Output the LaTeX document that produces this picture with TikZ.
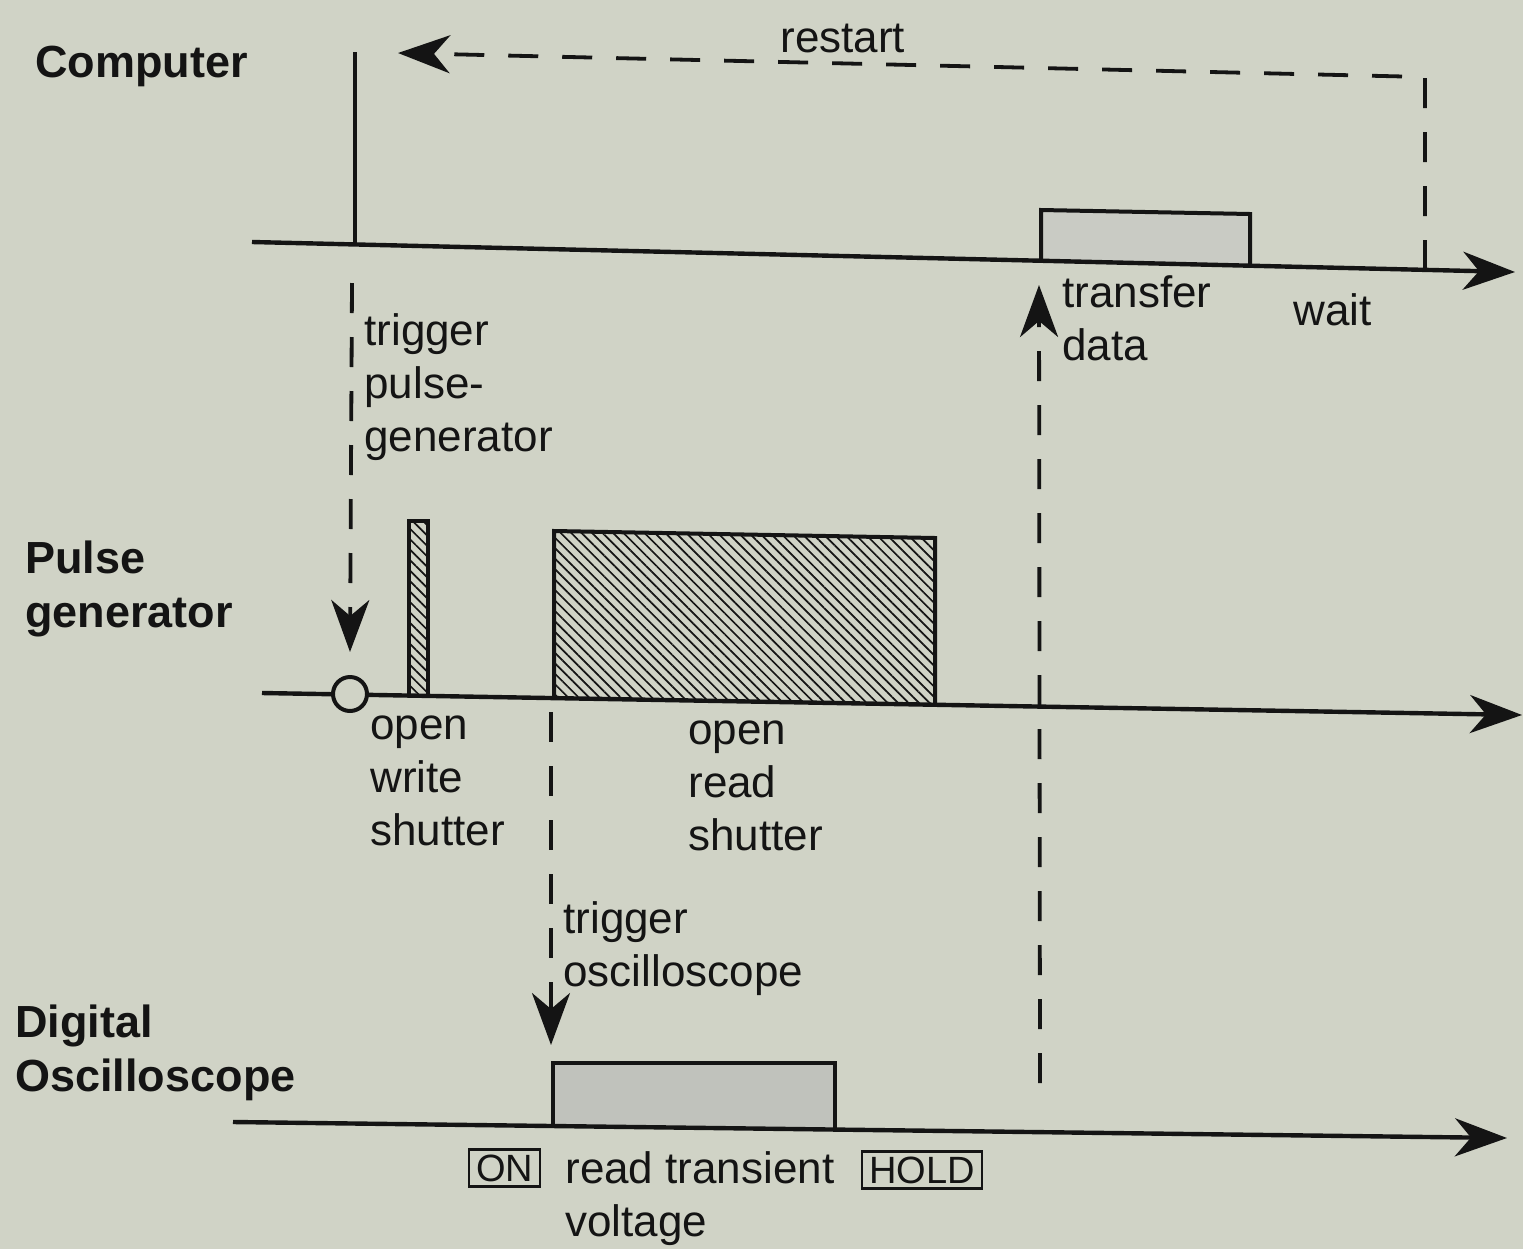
\documentclass[tikz,border=0pt]{standalone}
\usepackage{fontspec}
\setmainfont{Liberation Sans}
\usetikzlibrary{arrows.meta,patterns.meta}
\definecolor{bg}{RGB}{208,211,198}
\definecolor{ink}{RGB}{20,20,20}
\definecolor{boxA}{RGB}{201,203,196}
\definecolor{boxB}{RGB}{192,194,188}
\begin{document}
\begin{tikzpicture}[x=0.5pt,y=-0.5pt,
  bigtip/.style={-{Stealth[length=26pt,width=19pt,inset=8pt]}},
  axis/.style={draw=ink,line width=2.2pt,bigtip},
  sig/.style={draw=ink,line width=2pt},
  dsh/.style={draw=ink,line width=1.9pt,dash pattern=on 15pt off 12pt},
  txt/.style={anchor=base west,inner sep=0pt,text=ink,align=left,font=\fontsize{22}{26.5}\selectfont},
  ttl/.style={anchor=base west,inner sep=0pt,text=ink,align=left,font=\fontsize{22.5}{27}\selectfont\bfseries},
  tag/.style={draw=ink,line width=1.2pt,inner xsep=3.5pt,inner ysep=2.5pt,text=ink,font=\fontsize{19}{22}\selectfont},
  hatch/.style={draw=ink,line width=2pt,pattern={Lines[angle=-45,distance=3.7pt,line width=0.85pt]},pattern color=ink}
]
\fill[bg] (0,0) rectangle (1523,1249);
\useasboundingbox (0,0) rectangle (1523,1249);

% ---------- coordinates ----------
\coordinate (cA) at (252,242);
\coordinate (cB) at (1515,272);
\coordinate (cv0) at (355,244.5);
\coordinate (cvT) at (355,52);
\coordinate (w0) at (1425,270);
\coordinate (w1) at (1425,77);
\coordinate (rs) at (398,53);
\coordinate (t1s) at (352,283);
\coordinate (t1e) at (350,652);
\coordinate (pA) at (262,693);
\coordinate (pB) at (1522,715);
\coordinate (t2s) at (551,712);
\coordinate (t2e) at (551,1045);
\coordinate (oA) at (233,1122);
\coordinate (oB) at (1507,1138);
\coordinate (ds) at (1040,1083);
\coordinate (de) at (1039,285);

% ---------- boxes ----------
\draw[sig,fill=boxA] (1041,261) -- (1041,210) -- (1250,214) -- (1250,266);
\draw[hatch] (409,696) -- (409,521) -- (428,521) -- (428,696);
\draw[hatch] (554,698) -- (554,531) -- (935,538) -- (935,705);
\draw[sig,fill=boxB] (553,1126) -- (553,1063) -- (835,1063) -- (835,1130);

% ---------- axes ----------
\draw[axis] (cA) -- (cB);
\draw[axis] (pA) -- (pB);
\draw[axis] (oA) -- (oB);
\draw[sig] (cv0) -- (cvT);
\node[circle,draw=ink,line width=2pt,fill=bg,minimum size=17pt,inner sep=0pt] (circ) at (350,694) {};

% ---------- dashed connectors ----------
\draw[dsh,bigtip] (w0) -- (w1) -- (rs);
\draw[dsh,bigtip] (t1s) -- (t1e);
\draw[dsh,bigtip] (t2s) -- (t2e);
\draw[dsh,bigtip] (ds) -- (de);

% ---------- labels (anchor = baseline of last line) ----------
\node[ttl] (lc) at (35,77) {Computer};
\node[ttl] (lp) at (25,627) {Pulse\\generator};
\node[ttl] (lo) at (15,1091) {Digital\\Oscilloscope};
\node[txt] (lr) at (780,52) {restart};
\node[txt] (ltp) at (364,451) {trigger\\pulse-\\generator};
\node[txt] (lw) at (370,845) {open\\write\\shutter};
\node[txt] (lrs) at (688,850) {open\\read\\shutter};
\node[txt] (lto) at (563,986) {trigger\\oscilloscope};
\node[txt] (ltd) at (1062,360) {transfer\\data};
\node[txt] (lwt) at (1293,325) {wait};
\node[txt] (lrt) at (565,1236) {read transient\\voltage};
\node[tag] (on) at (504.5,1168) {ON};
\node[tag] (hold) at (922,1170) {HOLD};
\end{tikzpicture}
\end{document}
